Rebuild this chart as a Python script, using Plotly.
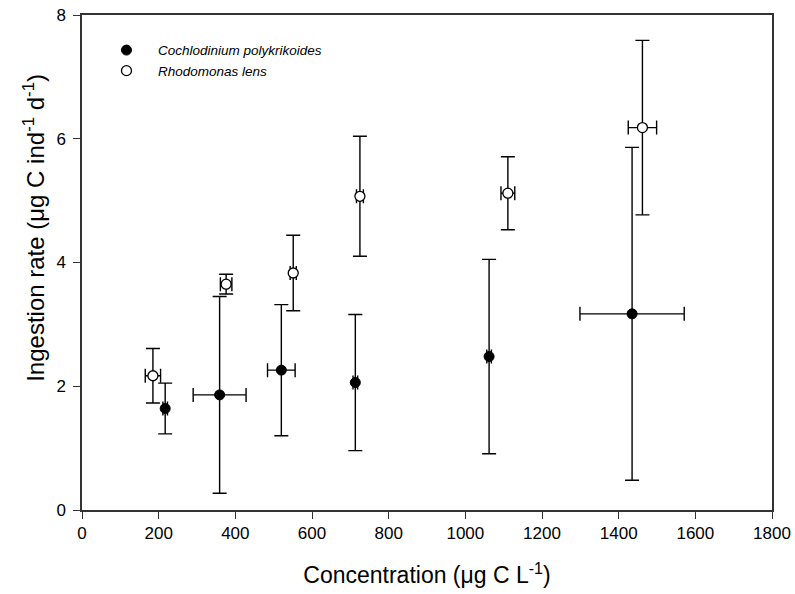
import plotly.graph_objects as go

# Cochlodinium polykrikoides
coch_x = [217, 359, 520, 713, 1062, 1435]
coch_x_err = [6, 69, 36, 6, 6, 136]
coch_y = [1.64, 1.86, 2.26, 2.06, 2.48, 3.17]
coch_y_err = [0.41, 1.59, 1.06, 1.10, 1.57, 2.69]

# Rhodomonas lens
rhod_x = [185, 376, 551, 725, 1111, 1462]
rhod_x_err = [20, 15, 8, 9, 18, 37]
rhod_y = [2.17, 3.65, 3.83, 5.07, 5.12, 6.18]
rhod_y_err = [0.44, 0.16, 0.61, 0.97, 0.59, 1.41]

x_ticks = [0, 200, 400, 600, 800, 1000, 1200, 1400, 1600, 1800]
y_ticks = [0, 2, 4, 6, 8]

err_style = dict(type="data", color="black", thickness=1.4, width=7)
FONT = "Liberation Sans, Arial, sans-serif"

fig = go.Figure()
fig.add_trace(go.Scatter(
    x=coch_x, y=coch_y, mode="markers", name="Cochlodinium polykrikoides",
    marker=dict(symbol="circle", size=10, color="black", line=dict(color="black", width=1)),
    error_y=dict(array=coch_y_err, **err_style),
    error_x=dict(array=coch_x_err, **err_style),
))
fig.add_trace(go.Scatter(
    x=rhod_x, y=rhod_y, mode="markers", name="Rhodomonas lens",
    marker=dict(symbol="circle", size=10, color="white", line=dict(color="black", width=1.3)),
    error_y=dict(array=rhod_y_err, **err_style),
    error_x=dict(array=rhod_x_err, **err_style),
))

axis_common = dict(
    showgrid=False, zeroline=False, showline=True, linecolor="#333", linewidth=1.5,
    mirror=True, ticks="outside", ticklen=7, tickwidth=1.3, tickcolor="#333",
    tickfont=dict(family=FONT, size=17, color="black"), automargin=False,
)

fig.update_layout(
    width=795, height=594,
    margin=dict(l=82, r=23, t=15, b=84),
    paper_bgcolor="white", plot_bgcolor="white",
    font=dict(family=FONT, color="black"),
    showlegend=True,
    legend=dict(
        x=0.0188, y=0.960, xanchor="left", yanchor="top",
        font=dict(size=13.5, family=FONT, color="black", style="italic"),
        bgcolor="rgba(0,0,0,0)", borderwidth=0, tracegroupgap=0,
        itemwidth=53,
    ),
    xaxis=dict(
        range=[0, 1800], tickvals=x_ticks, ticktext=[str(v) for v in x_ticks],
        title=dict(text="Concentration (μg C L<sup>-1</sup>)", font=dict(size=23), standoff=25),
        **axis_common,
    ),
    yaxis=dict(
        range=[0, 8], tickvals=y_ticks, ticktext=[str(v) for v in y_ticks],
        ticklabelstandoff=4,
        **axis_common,
    ),
    annotations=[dict(
        text="Ingestion rate (μg C ind<sup>-1</sup> d<sup>-1</sup>)",
        xref="paper", yref="paper", x=-0.0696, y=0.57,
        xanchor="center", yanchor="middle", textangle=-90, showarrow=False,
        font=dict(size=24, family=FONT, color="black"),
    )],
)

fig.write_html("out.html")
